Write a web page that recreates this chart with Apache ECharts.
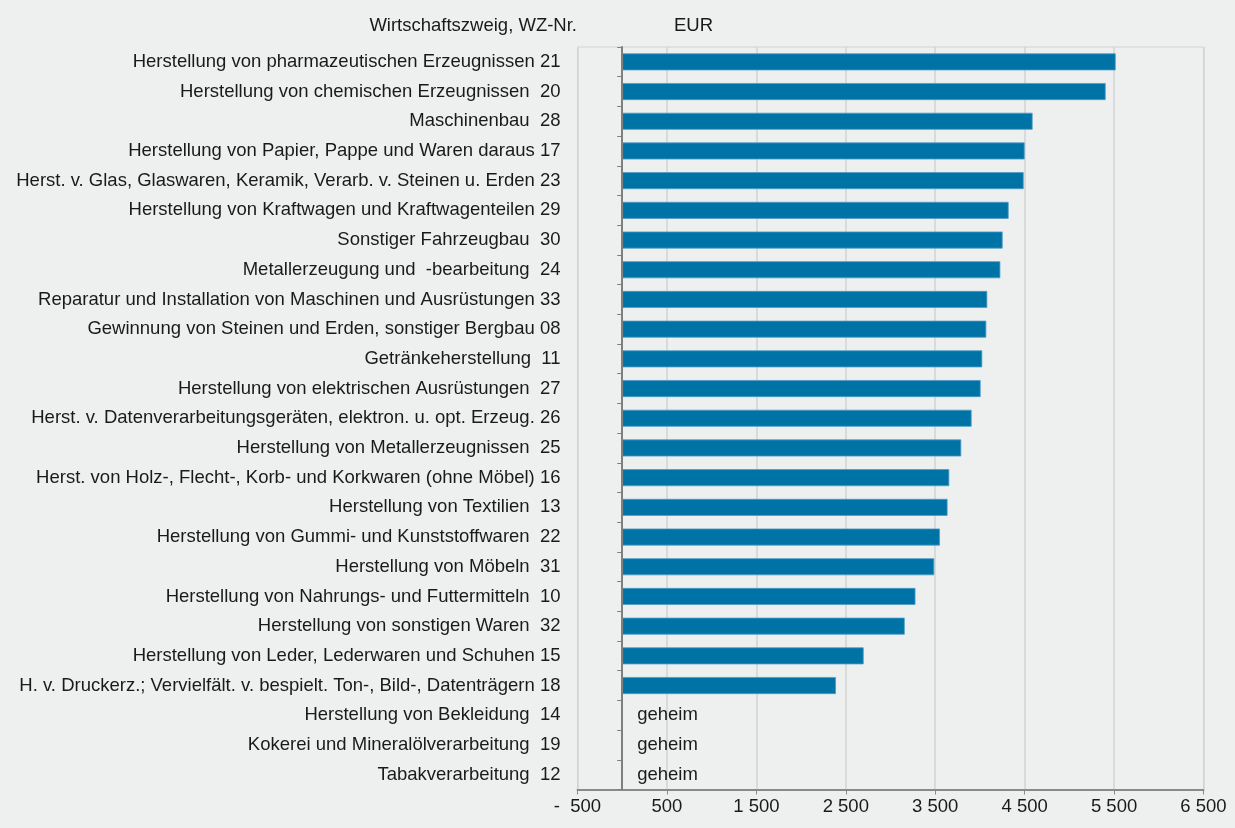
<!DOCTYPE html>
<html>
<head>
<meta charset="utf-8">
<script src="https://cdn.jsdelivr.net/npm/echarts@6/dist/echarts.min.js"></script>
<style>
  html, body { margin: 0; padding: 0; background: #eef0ef; }
  #chart { width: 1235px; height: 828px; }
</style>
</head>
<body>
<div id="chart"></div>
<script>
  // Wirtschaftszweige (von oben nach unten)
  var branchen = [
    'Herstellung von pharmazeutischen Erzeugnissen 21',
    'Herstellung von chemischen Erzeugnissen  20',
    'Maschinenbau  28',
    'Herstellung von Papier, Pappe und Waren daraus 17',
    'Herst. v. Glas, Glaswaren, Keramik, Verarb. v. Steinen u. Erden 23',
    'Herstellung von Kraftwagen und Kraftwagenteilen 29',
    'Sonstiger Fahrzeugbau  30',
    'Metallerzeugung und  -bearbeitung  24',
    'Reparatur und Installation von Maschinen und Ausrüstungen 33',
    'Gewinnung von Steinen und Erden, sonstiger Bergbau 08',
    'Getränkeherstellung  11',
    'Herstellung von elektrischen Ausrüstungen  27',
    'Herst. v. Datenverarbeitungsgeräten, elektron. u. opt. Erzeug. 26',
    'Herstellung von Metallerzeugnissen  25',
    'Herst. von Holz-, Flecht-, Korb- und Korkwaren (ohne Möbel) 16',
    'Herstellung von Textilien  13',
    'Herstellung von Gummi- und Kunststoffwaren  22',
    'Herstellung von Möbeln  31',
    'Herstellung von Nahrungs- und Futtermitteln  10',
    'Herstellung von sonstigen Waren  32',
    'Herstellung von Leder, Lederwaren und Schuhen 15',
    'H. v. Druckerz.; Vervielfält. v. bespielt. Ton-, Bild-, Datenträgern 18',
    'Herstellung von Bekleidung  14',
    'Kokerei und Mineralölverarbeitung  19',
    'Tabakverarbeitung  12'
  ];

  // EUR, null = geheim
  var werte = [
    5518, 5406, 4589, 4500, 4489, 4321, 4254, 4228, 4082, 4071,
    4026, 4008, 3907, 3791, 3657, 3638, 3553, 3489, 3279, 3159,
    2700, 2390, null, null, null
  ];

  var xTicks = [-500, 500, 1500, 2500, 3500, 4500, 5500, 6500];

  var fontFam = '"Liberation Sans", Arial, sans-serif';
  var fs = 18.5;

  function fmtTick(v) {
    var s = String(Math.abs(v)).replace(/\B(?=(\d{3})+(?!\d))/g, ' ');
    return v < 0 ? '-  ' + s : s;
  }

  var barData = werte.map(function (v) {
    if (v === null) {
      // geheim: kein Balken, nur Text
      return {
        value: 0,
        itemStyle: { color: 'transparent', borderWidth: 0 },
        label: { show: true, position: 'right', distance: 15, formatter: 'geheim',
          color: '#1a1a1a', fontSize: fs, fontFamily: fontFam }
      };
    }
    return v;
  });

  var myChart = echarts.init(document.getElementById('chart'), null, { renderer: 'canvas' });
  myChart.setOption({
    backgroundColor: '#eef0ef',
    animation: false,
    grid: {
      left: 577.5, right: 31.5, top: 47, bottom: 38.5,
      containLabel: false, outerBoundsMode: 'none',
      show: true, borderColor: '#d2d4d3', borderWidth: 1, backgroundColor: 'transparent'
    },
    graphic: [
      { type: 'text', right: 1235 - 577, top: 16,
        style: { text: 'Wirtschaftszweig, WZ-Nr.', fill: '#1a1a1a', font: fs + 'px ' + fontFam, textAlign: 'right' } },
      { type: 'text', left: 674, top: 16,
        style: { text: 'EUR', fill: '#1a1a1a', font: fs + 'px ' + fontFam } }
    ],
    xAxis: {
      type: 'value',
      min: xTicks[0],
      max: xTicks[xTicks.length - 1],
      interval: 1000,
      axisLine: { show: true, onZero: false, lineStyle: { color: '#8a8a8a', width: 2 } },
      axisTick: { show: true, length: 5, lineStyle: { color: '#8a8a8a', width: 1 } },
      splitLine: { show: true, lineStyle: { color: '#d2d4d3', width: 1.5 } },
      axisLabel: { margin: 8, color: '#1a1a1a', fontSize: fs, fontFamily: fontFam, formatter: fmtTick }
    },
    yAxis: {
      type: 'category',
      inverse: true,
      data: branchen,
      z: 3,
      axisLine: { show: true, onZero: true, lineStyle: { color: '#7f7f7f', width: 2 } },
      axisTick: { show: true, length: 5, lineStyle: { color: '#7f7f7f', width: 1 } },
      axisLabel: { margin: 17, color: '#1a1a1a', fontSize: fs, fontFamily: fontFam, interval: 0 },
      splitLine: { show: false }
    },
    series: [{
      type: 'bar',
      data: barData,
      barWidth: 17,
      z: 2,
      itemStyle: { color: '#0073a6', borderColor: '#4c9cc6', borderWidth: 0.8 },
      label: { show: false }
    }]
  });
</script>
</body>
</html>
